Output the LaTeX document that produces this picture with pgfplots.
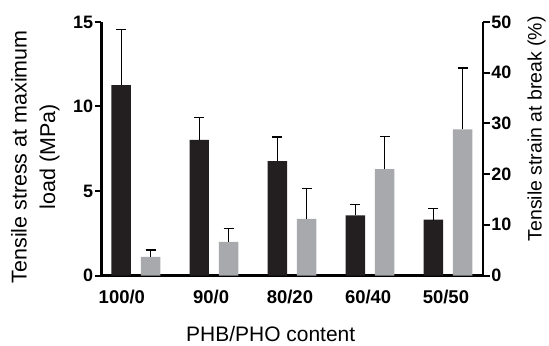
\documentclass[border=0pt]{standalone}
\usepackage{pgfplots}
\pgfplotsset{compat=1.18}
\usepackage{fontspec}
\setmainfont{Liberation Sans}
\definecolor{barblack}{HTML}{231F20}
\definecolor{bargrey}{HTML}{A7A9AC}
\pgfplotsset{
 common/.style={
  width=382.5pt, height=254pt, scale only axis,
  xmin=-0.443, xmax=4.45,
  ymin=0,
  ybar, bar width=19.5pt,
  /pgf/number format/assume math mode=true,
  tick align=outside,
  major tick length=6.5pt,
  every tick/.style={line width=2pt, black},
  axis line style={-, line width=2.4pt, black},
  yticklabel style={font=\bfseries\fontsize{18}{21}\selectfont, inner sep=1.5pt},
  clip=false,
 },
 errs/.style={
  error bars/y dir=plus, error bars/y explicit,
  error bars/error bar style={line width=1.2pt, draw=black},
  error bars/error mark options={rotate=90, line width=1.6pt, mark size=5pt, draw=black},
 }
}
\begin{document}
\begin{tikzpicture}
\path (-101.5pt,-66pt) rectangle (447.5pt,276pt);
\begin{axis}[common,
  ymax=15, ytick={0,5,10,15},
  axis y line*=left, axis x line*=bottom,
  xtick={-0.18,0.964,1.974,2.976,3.973},
  xticklabels={100/0,90/0,80/20,60/40,50/50},
  xtick style={draw=none},
  xticklabel style={font=\bfseries\fontsize{18.5}{22}\selectfont, anchor=base, yshift=-22pt},
  xlabel={PHB/PHO content},
  xlabel style={font=\fontsize{21}{25}\selectfont, at={(axis description cs:0.4436,-0.262)}, anchor=base},
  ylabel={Tensile stress at maximum\\load (MPa)},
  ylabel style={align=center, font=\fontsize{21.5}{28.5}\selectfont, at={(axis description cs:-0.173,0.468)}, anchor=center},
  bar shift=-14.7pt,
]
\addplot[fill=barblack, draw=none, errs] coordinates {
 (0,11.26) +- (0,3.29)
 (1,8.03) +- (0,1.32)
 (2,6.77) +- (0,1.42)
 (3,3.56) +- (0,0.65)
 (4,3.31) +- (0,0.65)
};
\end{axis}
\begin{axis}[common,
  ymax=50, ytick={0,10,20,30,40,50},
  axis y line*=right, axis x line=none,
  ylabel={Tensile strain at break (\%)},
  ylabel style={font=\fontsize{19.5}{24}\selectfont, at={(axis description cs:1.140,0.579)}, anchor=center},
  bar shift=14.7pt,
]
\addplot[fill=bargrey, draw=none, errs] coordinates {
 (0,3.68) +- (0,1.30)
 (1,6.63) +- (0,2.68)
 (2,11.16) +- (0,5.97)
 (3,21.0) +- (0,6.4)
 (4,28.8) +- (0,12.1)
};
\end{axis}
\end{tikzpicture}
\end{document}
